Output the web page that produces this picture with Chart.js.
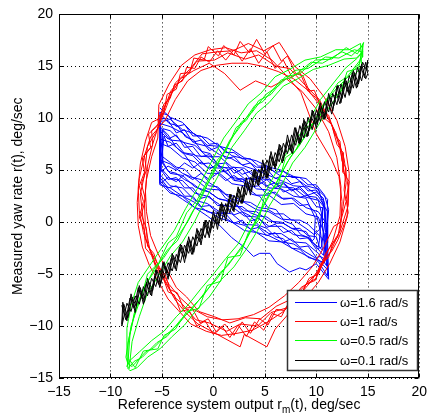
<!DOCTYPE html>
<html>
<head>
<meta charset="utf-8">
<script src="https://cdn.jsdelivr.net/npm/chart.js@4"></script>
<style>
html,body{margin:0;padding:0;background:#fff}
#wrap{position:relative;width:433px;height:418px}
</style>
</head>
<body>
<div id="wrap"><canvas id="c"></canvas></div>
<script>
const FONT = '"Liberation Sans", Arial, Helvetica, sans-serif';

// axis ticks
const xTicks = [-15, -10, -5, 0, 5, 10, 15, 20];
const yTicks = [-15, -10, -5, 0, 5, 10, 15, 20];

// legend labels, in legend order
const labels = ['\u03c9=1.6 rad/s', '\u03c9=1 rad/s', '\u03c9=0.5 rad/s', '\u03c9=0.1 rad/s'];
const colors = ['#0000ff', '#ff0000', '#00ff00', '#000000'];

// omega = 1.6 rad/s  [r_m, r]
const w16 = [
  [-5.2,11.0],[-4.2,10.1],[-3.0,9.6],[-1.8,8.4],[-0.6,8.1],[0.6,7.3],[1.8,7.0],[3.0,6.2],[4.2,5.9],[5.4,5.3],[6.6,5.0],[7.8,4.4],[9.0,4.2],[10.2,3.1],[11.1,2.2],[11.0,-1.0],[11.1,-4.6],
  [10.2,-3.6],[9.0,-2.9],[7.8,-2.1],[6.6,-1.9],[5.4,-1.3],[4.2,-1.0],[3.0,-0.3],[1.8,0.0],[0.6,0.8],[-0.6,1.0],[-1.8,1.9],[-3.0,2.5],[-4.2,3.3],[-5.2,3.6],[-5.2,5.5],
  [-4.9,9.0],[-4.2,8.8],[-3.0,7.7],[-1.8,7.4],[-0.6,6.3],[0.6,6.3],[1.8,5.3],[3.0,5.2],[4.2,4.2],[5.4,4.1],[6.6,3.4],[7.8,3.3],[9.0,2.4],[10.2,2.1],[10.5,0.9],[10.3,-1.8],
  [10.2,-2.4],[9.0,-1.4],[7.8,-1.2],[6.6,-0.4],[5.4,-0.4],[4.2,0.5],[3.0,0.6],[1.8,1.5],[0.6,1.7],[-0.6,2.5],[-1.8,2.8],[-3.0,4.0],[-4.2,4.2],[-5.1,5.2],
  [-5.2,9.7],[-4.4,9.8],[-3.6,8.6],[-2.8,8.9],[-2.0,7.7],[-1.2,7.9],[-0.4,6.9],[0.4,7.2],[1.2,6.1],[2.0,6.3],[2.8,5.5],[3.6,5.7],[4.4,4.8],[5.2,5.1],[6.0,4.2],[6.8,4.5],[7.6,3.7],[8.4,3.9],[9.2,3.0],[10.0,3.1],[10.8,1.9],[10.9,0.4],[10.5,-2.4],
  [10.0,-2.6],[9.2,-1.5],[8.4,-1.6],[7.6,-0.8],[6.8,-1.0],[6.0,-0.2],[5.2,-0.5],[4.4,0.4],[3.6,0.1],[2.8,1.0],[2.0,0.7],[1.2,1.6],[0.4,1.6],[-0.4,2.5],[-1.2,2.3],[-2.0,3.3],[-2.8,3.3],[-3.6,4.3],[-4.4,4.1],[-5.2,5.2],
  [-5.1,10.4],[-4.3,9.5],[-3.5,9.3],[-2.7,8.2],[-1.9,7.9],[-1.1,6.8],[-0.3,6.6],[0.5,5.4],[1.3,5.2],[2.1,4.0],[2.9,3.9],[3.7,2.7],[4.5,2.5],[5.3,1.4],[6.1,1.2],[6.9,0.1],[7.7,-0.2],[8.5,-1.2],[9.3,-1.5],[10.1,-2.5],[10.7,-3.2],[10.9,-1.0],[10.7,2.3],
  [10.0,2.9],[9.2,2.6],[8.4,3.4],[7.6,3.0],[6.8,3.7],[6.0,3.3],[5.2,4.1],[4.4,3.6],[3.6,4.3],[2.8,3.9],[2.0,4.5],[1.2,4.0],[0.4,4.7],[-0.4,4.1],[-1.2,4.7],[-2.0,4.1],[-2.8,4.6],[-3.6,3.9],[-4.4,4.3],[-5.2,3.7],
  [-5.2,8.0],[-4.2,7.7],[-3.0,6.7],[-1.8,6.5],[-0.6,5.3],[0.6,5.2],[1.8,4.3],[3.0,4.1],[4.2,3.2],[5.4,3.1],[6.6,2.3],[7.8,2.3],[9.0,1.4],[10.2,1.0],[11.1,-0.3],[11.0,-3.0],[11.1,-5.2],
  [10.2,-3.8],[9.0,-3.2],[7.8,-2.6],[6.6,-1.9],[5.4,-1.8],[4.2,-1.0],[3.0,-0.8],[1.8,0.0],[0.6,0.4],[-0.6,1.1],[-1.8,1.4],[-3.0,2.5],[-4.2,2.8],[-5.2,3.8],
  [-5.1,8.7],[-4.4,8.0],[-3.6,8.4],[-2.8,7.2],[-2.0,7.3],[-1.2,6.3],[-0.4,6.5],[0.4,5.6],[1.2,5.7],[2.0,4.7],[2.8,5.1],[3.6,4.1],[4.4,4.4],[5.2,3.5],[6.0,3.8],[6.8,2.9],[7.6,3.2],[8.4,2.4],[9.2,2.6],[10.0,1.5],[10.6,1.4],[10.6,-0.3],[10.9,-3.6],
  [10.4,-3.3],[10.0,-3.4],[9.2,-2.3],[8.4,-2.4],[7.6,-1.6],[6.8,-1.9],[6.0,-1.0],[5.2,-1.3],[4.4,-0.5],[3.6,-0.7],[2.8,0.2],[2.0,-0.1],[1.2,0.8],[0.4,0.9],[-0.4,1.6],[-1.2,1.5],[-2.0,2.5],[-2.8,2.5],[-3.6,3.5],[-4.4,3.3],[-5.2,4.3],
  [-5.2,10.0],[-4.2,9.9],[-3.0,8.9],[-1.8,8.5],[-0.6,7.4],[0.6,7.3],[1.8,6.4],[3.0,6.1],[4.2,5.3],[5.4,5.2],[6.6,4.4],[7.8,4.4],[9.0,3.5],[10.2,3.2],[10.7,1.6],[10.3,-0.7],
  [9.8,-1.2],[9.0,-0.6],[7.8,0.2],[6.6,0.3],[5.4,1.0],[4.2,1.2],[3.0,1.9],[1.8,2.2],[0.6,3.1],[-0.6,3.2],[-1.8,4.2],[-3.0,4.7],[-4.2,5.6],[-5.2,6.0],
  [-5.2,4.8],[-4.4,5.4],[-3.6,5.0],[-2.8,5.7],[-2.0,5.2],[-1.2,5.8],[-0.4,5.1],[0.4,5.6],[1.2,4.9],[2.0,5.3],[2.8,4.6],[3.6,4.9],[4.4,4.2],[5.2,4.4],[6.0,3.7],[6.8,3.8],[7.6,3.1],[8.4,3.2],[9.2,2.5],[10.0,2.4],[10.8,1.4],[11.0,-0.9],[10.8,-3.9],
  [10.0,-3.6],[9.2,-3.4],[8.4,-2.6],[7.6,-2.5],[6.8,-1.6],[6.0,-1.4],[5.2,-0.6],[4.4,-0.3],[3.6,0.6],[2.8,1.0],[2.0,1.9],[1.2,2.3],[0.4,3.3],[-0.4,3.8],[-1.2,4.8],[-2.0,5.4],[-2.8,6.5],[-3.6,7.2],[-4.4,8.4],[-5.2,9.2],[-5.2,10.6],
  [-5.0,10.5],[-4.4,10.3],[-3.6,9.2],[-2.8,9.4],[-2.0,8.3],[-1.2,8.3],[-0.4,7.5],[0.4,7.6],[1.2,6.7],[2.0,6.7],[2.8,6.1],[3.6,6.1],[4.4,5.4],[5.2,5.4],[6.0,4.8],[6.8,4.9],[7.6,4.3],[8.4,4.3],[9.2,3.6],[10.0,3.6],[10.8,2.6],[11.2,1.2],[10.9,-1.9],
  [10.5,-1.5],[10.0,-1.0],[9.2,-0.2],[8.4,0.2],[7.6,0.2],[6.8,0.8],[6.0,0.8],[5.2,1.3],[4.4,1.4],[3.6,1.9],[2.8,2.0],[2.0,2.5],[1.2,2.7],[0.4,3.4],[-0.4,3.5],[-1.2,4.1],[-2.0,4.3],[-2.8,5.1],[-3.6,5.3],[-4.4,5.9],[-5.2,6.5],
  [-5.2,9.5],[-4.2,9.2],[-3.0,8.6],[-1.8,7.6],[-0.6,7.3],[0.6,6.5],[1.8,6.1],[3.0,5.4],[4.2,5.0],[5.4,4.5],[6.6,4.0],[7.8,3.5],[9.0,3.4],[10.2,2.5],[11.1,1.0],[11.1,-2.0],[11.2,-5.5],
  [10.0,-4.0],[9.0,-4.6],[8.4,-4.4],[7.4,-4.8],[6.2,-4.0],[5.5,-3.0],[4.5,-3.0],[3.9,-3.3],[3.0,-2.4],[1.8,-1.5],[0.6,-0.3],[-0.6,0.6],[-1.8,1.4],[-3.0,2.2],[-4.2,3.0],[-5.2,4.0],
  [-4.8,8.3],[-4.4,7.3],[-3.6,7.6],[-2.8,6.6],[-2.0,6.4],[-1.2,5.6],[-0.4,5.7],[0.4,4.8],[1.2,4.9],[2.0,4.0],[2.8,4.2],[3.6,3.4],[4.4,3.5],[5.2,2.7],[6.0,2.9],[6.8,2.2],[7.6,2.3],[8.4,1.6],[9.2,1.7],[10.0,0.8],[10.4,-0.9],[10.6,-2.7],
  [10.3,-2.4],[10.0,-1.4],[9.2,-1.3],[8.4,-0.6],[7.6,-0.6],[6.8,-0.1],[6.0,-0.1],[5.2,0.5],[4.4,0.6],[3.6,0.9],[2.8,1.5],[2.0,1.5],[1.2,2.1],[0.4,2.3],[-0.4,2.9],[-1.2,3.1],[-2.0,3.7],[-2.8,4.1],[-3.6,4.7],[-4.4,4.9],[-4.9,5.8],
  [-5.0,8.9],[-4.2,7.9],[-3.0,7.8],[-1.8,6.4],[-0.6,6.3],[0.6,5.3],[1.8,5.2],[3.0,4.2],[4.2,4.1],[5.4,3.3],[6.6,3.2],[7.8,2.5],[9.0,2.3],[9.9,0.4],[9.8,-1.6],
  [9.6,-1.8],[9.0,-0.9],[7.8,-0.7],[6.6,0.0],[5.4,0.1],[4.2,1.0],[3.0,1.1],[1.8,2.0],[0.6,2.2],[-0.6,3.0],[-1.8,3.4],[-3.0,4.5],[-4.2,4.7],[-4.9,5.6],
  [-5.2,7.6],[-4.2,7.2],[-3.0,6.2],[-1.8,5.8],[-0.6,4.7],[0.6,4.7],[1.8,3.7],[3.0,3.5],[4.2,2.6],[5.4,2.6],[6.6,1.7],[7.8,1.8],[9.0,0.8],[10.2,0.5],[10.8,-1.2],[11.0,-4.2],
  [10.2,-3.0],[9.0,-2.0],[7.8,-1.9],[6.6,-1.1],[5.4,-1.1],[4.2,-0.3],[3.0,-0.2],[1.8,0.8],[0.6,1.0],[-0.6,1.8],[-1.8,2.1],[-3.0,3.3],[-4.2,3.5],[-5.2,4.6],[-5.2,7.0]
];

// omega = 1 rad/s
const w10 = [
  [-5.0,10.3],[-4.1,12.7],[-2.7,14.0],[-1.6,15.5],[0.1,15.6],[1.4,16.3],[3.1,15.7],[4.4,16.1],[6.1,15.0],[7.4,14.8],[9.1,13.0],[10.3,11.8],[11.7,9.0],[12.3,7.1],[12.9,3.8],[12.6,1.5],[12.1,-1.4],[10.9,-3.0],[10.0,-5.4],[8.5,-6.3],[7.3,-8.2],[5.6,-8.7],[4.3,-10.0],[2.6,-9.8],[1.3,-10.5],[-0.4,-9.7],[-1.7,-9.4],[-3.1,-7.8],[-3.9,-7.1],[-5.0,-5.0],[-5.7,-3.9],[-6.6,-1.6],[-6.8,0.0],[-7.1,2.7],[-6.7,4.5],[-6.4,7.3],[-5.6,8.6],
  [-4.6,11.0],[-3.7,13.4],[-2.3,14.7],[-1.1,16.2],[0.4,16.4],[1.9,16.5],[3.4,17.2],[4.9,16.5],[6.4,17.3],[7.9,15.0],[9.4,13.8],[10.8,12.0],[12.0,9.8],[12.8,7.3],[13.2,4.7],[13.1,1.6],[12.4,-0.6],[11.4,-2.8],[10.3,-4.6],[9.0,-6.0],[7.6,-7.4],[6.1,-8.1],[4.6,-9.3],[3.1,-9.2],[1.6,-9.7],[0.1,-9.1],[-1.4,-8.6],[-2.6,-7.2],[-3.6,-6.3],[-4.5,-4.6],[-5.4,-3.0],[-6.1,-1.3],[-6.5,1.0],[-6.6,3.0],[-6.4,5.4],[-5.9,7.5],[-5.3,9.4],
  [-5.4,9.9],[-4.4,11.8],[-3.2,13.8],[-1.9,14.6],[-0.4,15.3],[1.1,14.3],[2.6,12.7],[4.1,13.6],[5.6,13.0],[7.1,13.8],[8.6,12.6],[10.0,10.9],[11.2,8.7],[12.0,6.2],[12.4,3.4],[12.3,0.6],[11.6,-1.8],[10.6,-3.9],[9.5,-5.7],[8.2,-7.2],[6.8,-8.6],[5.3,-9.6],[3.8,-10.4],[2.3,-10.7],[0.8,-10.9],[-0.7,-10.5],[-2.2,-9.8],[-3.4,-8.5],[-4.4,-7.4],[-5.3,-5.8],[-6.2,-4.2],[-6.9,-2.4],[-7.3,-0.3],[-7.4,1.9],[-7.2,4.2],[-6.7,6.4],[-6.1,8.2],
  [-4.7,9.8],[-3.7,11.8],[-2.5,13.6],[-1.2,14.6],[0.3,15.1],[1.8,15.3],[3.3,15.3],[4.8,15.0],[6.3,14.5],[7.8,13.8],[9.3,12.6],[10.7,10.8],[11.9,8.6],[12.7,6.1],[13.1,3.3],[13.0,0.5],[12.3,-1.9],[11.3,-4.0],[10.2,-5.8],[8.9,-7.3],[7.5,-8.6],[6.0,-10.3],[5.2,-12.0],[3.0,-10.8],[2.6,-12.0],[0.0,-10.6],[-1.5,-9.8],[-2.7,-8.7],[-3.7,-7.5],[-4.6,-5.9],[-5.5,-4.3],[-6.2,-2.5],[-6.6,-0.4],[-6.7,1.8],[-6.5,4.1],[-6.0,6.3],[-5.4,8.1],
  [-5.3,11.3],[-4.3,13.3],[-3.1,15.1],[-1.8,16.1],[-0.3,16.6],[1.2,16.8],[2.7,16.3],[4.2,16.5],[5.7,15.6],[7.0,14.2],[8.5,12.5],[10.0,8.5],[11.5,6.0],[12.2,4.4],[12.5,2.0],[12.4,0.0],[11.7,-0.4],[10.7,-2.5],[9.6,-4.3],[8.3,-5.8],[6.9,-7.1],[5.4,-8.2],[3.9,-8.9],[2.4,-9.3],[0.9,-9.4],[-0.6,-9.1],[-2.1,-8.3],[-3.3,-7.2],[-4.3,-6.0],[-5.2,-4.4],[-6.1,-2.8],[-6.8,-1.0],[-7.2,1.1],[-7.3,3.3],[-7.1,5.6],[-6.6,7.8],[-6.0,9.6],
  [-5.2,10.0],[-4.8,11.4],[-4.2,11.9],[-3.8,13.2],[-3.0,13.6],[-2.6,14.9],[-1.8,14.8],[-1.2,15.9],[-0.4,15.4],[0.4,16.5],[1.2,15.6],[2.0,16.6],[2.8,15.5],[3.6,16.7],[4.4,15.3],[5.2,16.4],[6.0,14.8],[6.8,15.6],[7.6,14.0],[8.4,14.4],[9.2,12.6],[9.8,12.7],[10.6,10.8],[11.2,10.3],[11.8,8.4],[12.3,7.8],[12.5,5.9],[12.9,5.2],[12.7,3.1],[12.9,2.0],[12.4,0.2],[12.3,-0.9],[11.6,-2.0],[11.2,-3.4],[10.4,-4.0],[9.9,-5.6],[9.0,-6.0],[8.3,-7.4],[7.4,-7.6],[6.6,-9.1],[5.7,-8.8],[4.9,-10.4],[4.0,-9.6],[3.2,-11.0],[2.4,-9.9],[1.6,-11.1],[0.8,-10.0],[0.0,-10.8],[-0.8,-9.5],[-1.6,-10.0],[-2.4,-8.4],[-3.2,-8.6],[-3.8,-7.0],[-4.4,-6.7],[-4.9,-5.3],[-5.5,-4.6],[-6.0,-3.2],[-6.6,-2.5],[-6.7,-0.8],[-7.2,0.5],[-6.8,2.0],[-7.2,3.5],[-6.7,4.8],[-6.9,6.2],[-6.1,7.2],[-6.3,8.5],[-5.5,9.2],
  [-4.8,10.6],[-4.5,12.3],[-3.6,12.8],[-3.2,14.3],[-2.3,14.4],[-1.9,15.8],[-0.9,15.6],[-0.5,16.9],[0.5,16.0],[1.0,17.0],[2.0,16.1],[2.6,17.4],[3.5,16.3],[4.2,17.6],[5.0,16.2],[5.8,17.0],[6.6,15.5],[7.2,16.0],[8.0,14.3],[8.7,14.1],[9.4,12.4],[10.1,11.9],[10.8,10.0],[11.5,9.4],[12.0,7.5],[12.6,6.7],[12.6,4.8],[13.2,3.9],[12.9,2.2],[13.1,0.9],[12.6,-0.5],[12.1,-1.7],[11.5,-2.8],[10.8,-3.6],[10.2,-5.0],[9.3,-5.4],[8.6,-6.8],[7.8,-7.1],[6.9,-8.5],[6.1,-8.4],[5.3,-9.9],[4.5,-9.3],[3.6,-10.7],[2.8,-9.6],[2.0,-10.9],[1.1,-9.8],[0.3,-10.6],[-0.5,-9.3],[-1.3,-9.7],[-2.1,-8.2],[-2.9,-8.3],[-3.5,-6.8],[-4.2,-6.5],[-4.7,-5.0],[-5.3,-4.4],[-5.8,-3.0],[-6.4,-2.3],[-6.5,-0.6],[-7.0,0.7],[-6.6,2.2],[-7.0,3.7],[-6.5,5.0],[-6.7,6.4],[-5.9,7.4],[-6.0,8.8],[-5.2,9.6],[-5.0,10.5]
];

// omega = 0.5 rad/s
const w05 = [
  [-8.3,-13.6],[-8.1,-10.8],[-7.7,-8.8],[-6.7,-6.2],[-5.9,-5.0],[-4.5,-2.7],[-3.5,-1.8],[-2.1,0.9],[-1.1,2.5],[0.3,5.5],[1.3,7.2],[2.7,9.6],[3.7,10.5],[5.1,12.3],[6.3,13.1],[7.9,14.6],[9.2,14.8],[10.9,15.9],[12.2,15.8],[13.7,16.6],[14.4,16.4],
  [14.2,15.3],[13.3,14.2],[11.9,12.8],[10.9,11.6],[9.5,9.1],[8.6,7.8],[7.2,5.8],[6.2,3.9],[4.9,1.6],[4.0,-0.2],[2.7,-2.6],[1.7,-3.7],[0.3,-5.5],[-0.7,-6.6],[-2.1,-8.4],[-3.1,-9.3],[-4.5,-11.0],[-5.5,-11.6],[-6.9,-13.0],[-7.7,-13.4],[-8.3,-14.1],
  [-8.4,-12.9],[-8.4,-10.2],[-8.0,-8.0],[-7.3,-5.8],[-6.2,-4.2],[-5.1,-2.6],[-3.8,-0.8],[-2.7,1.3],[-1.4,3.5],[-0.3,5.6],[1.0,8.1],[2.2,9.7],[3.4,11.4],[4.6,12.4],[6.0,14.0],[7.4,14.7],[8.9,15.6],[10.4,15.9],[11.9,16.6],[13.2,16.6],[14.3,17.2],
  [14.4,15.0],[13.5,13.9],[12.4,12.6],[11.2,11.0],[10.0,9.0],[8.9,7.2],[7.7,5.7],[6.5,3.3],[5.4,1.5],[4.3,-0.8],[3.2,-2.6],[2.0,-4.3],[0.8,-5.5],[-0.4,-7.2],[-1.6,-8.4],[-2.8,-9.9],[-4.0,-11.0],[-5.2,-12.2],[-6.4,-13.0],[-7.4,-14.0],[-8.1,-14.3],
  [-8.2,-14.2],[-7.9,-11.5],[-7.2,-9.1],[-6.4,-6.8],[-5.4,-5.3],[-4.2,-3.3],[-3.0,-1.9],[-1.8,0.1],[-0.6,2.5],[0.6,4.7],[1.8,7.2],[3.0,8.8],[4.2,10.5],[5.4,11.5],[6.8,13.1],[8.2,13.8],[9.7,14.7],[11.2,15.1],[12.7,15.7],[13.9,15.8],[14.5,16.4],
  [14.0,15.8],[12.8,14.8],[11.6,13.3],[10.4,11.8],[9.2,9.6],[8.1,8.0],[6.9,6.3],[5.7,4.1],[4.6,2.1],[3.5,0.0],[2.4,-2.1],[1.2,-3.5],[0.0,-5.0],[-1.2,-6.4],[-2.4,-7.9],[-3.6,-9.1],[-4.8,-10.5],[-6.0,-11.4],[-7.2,-12.5],[-8.1,-13.3],[-8.4,-13.9],
  [-8.3,-13.5],[-8.3,-11.6],[-7.5,-8.2],[-7.0,-6.9],[-5.7,-4.4],[-4.8,-3.4],[-3.2,-1.0],[-2.4,0.2],[-0.8,3.3],[0.0,4.7],[1.6,7.9],[2.4,8.9],[4.0,11.2],[4.8,11.6],[6.6,13.7],[7.6,13.9],[9.5,15.4],[10.6,15.3],[12.5,16.4],[13.4,16.0],[14.5,17.0],
  [14.5,15.9],[13.0,14.0],[12.1,13.4],[10.6,11.2],[9.8,9.7],[8.3,7.3],[7.5,6.3],[5.9,3.4],[5.2,2.3],[3.7,-0.6],[3.0,-2.0],[1.4,-4.2],[0.6,-4.9],[-1.0,-7.1],[-1.8,-7.9],[-3.4,-9.8],[-4.2,-10.5],[-5.8,-12.1],[-6.6,-12.5],[-7.9,-13.9],[-8.3,-13.6],
  [-8.5,-13.0],[-8.0,-10.0],[-7.8,-9.4],[-6.9,-6.9],[-6.4,-5.0],[-5.3,-3.9],[-4.4,-2.0],[-3.6,-1.4],[-2.6,0.9],[-1.6,2.1],[-0.6,3.9],[0.4,6.0],[1.2,6.8],[2.2,9.1],[3.2,9.8],[4.4,11.7],[5.6,12.3],[7.0,14.0],[8.4,14.3],[9.9,15.6],[11.5,15.7],[12.9,16.8],[14.0,16.2],[14.6,17.3],
  [14.1,14.8],[13.0,14.5],[12.3,12.4],[11.0,11.9],[10.2,9.8],[9.0,9.1],[8.0,6.9],[7.0,6.2],[6.3,3.6],[5.0,2.6],[4.4,0.2],[3.4,-1.0],[2.6,-3.2],[1.4,-3.4],[0.7,-5.7],[-0.6,-6.1],[-1.4,-8.3],[-2.6,-8.6],[-3.7,-10.3],[-4.8,-10.9],[-5.4,-12.2],[-6.8,-12.4],[-7.6,-14.0],[-8.2,-13.2]
];

// omega = 0.1 rad/s
const w01 = [
  [-8.9,-8.0],[-8.5,-9.4],[-8.1,-7.3],[-7.7,-8.3],[-7.3,-6.3],[-6.9,-7.4],[-6.5,-5.8],[-6.1,-7.0],[-5.7,-5.2],[-5.3,-6.0],[-4.9,-3.9],[-4.5,-4.9],[-4.1,-3.5],[-3.7,-4.5],[-3.3,-2.4],[-2.9,-3.4],[-2.5,-1.8],[-2.1,-3.1],[-1.7,-1.2],[-1.3,-1.9],
  [-0.9,0.0],[-0.5,-1.2],[-0.1,0.5],[0.3,-0.2],[0.7,1.7],[1.1,0.5],[1.5,2.2],[1.9,1.1],[2.3,2.8],[2.7,1.8],[3.1,3.9],[3.5,3.1],[3.9,5.0],[4.3,3.6],[4.7,5.3],[5.1,4.3],[5.5,6.4],[5.9,5.4],[6.3,7.0],[6.7,5.7],
  [7.1,7.7],[7.5,6.9],[7.9,9.1],[8.3,7.6],[8.7,9.5],[9.1,8.2],[9.5,10.1],[9.9,9.4],[10.3,11.2],[10.7,9.9],[11.1,11.8],[11.5,10.4],[11.9,12.5],[12.3,11.4],[12.7,13.5],[13.1,12.5],[13.5,14.4],[13.9,12.9],[14.3,15.0],[14.7,13.9],[15.0,15.6],
  [14.9,14.6],[14.5,15.4],[14.1,13.3],[13.7,14.4],[13.3,12.4],[12.9,13.6],[12.5,11.9],[12.1,13.2],[11.7,11.2],[11.3,12.1],[10.9,10.0],[10.5,11.1],[10.1,9.4],[9.7,10.7],[9.3,8.8],[8.9,9.7],[8.5,7.7],[8.1,8.7],[7.7,6.6],[7.3,8.0],
  [6.9,6.4],[6.5,7.4],[6.1,5.4],[5.7,6.3],[5.3,4.3],[4.9,5.7],[4.5,3.9],[4.1,5.0],[3.7,2.9],[3.3,3.8],[2.9,2.0],[2.5,3.2],[2.1,1.5],[1.7,2.7],[1.3,0.8],[0.9,1.7],[0.5,-0.3],[0.1,0.7],[-0.3,-1.0],[-0.7,0.2],
  [-1.1,-1.6],[-1.5,-0.8],[-1.9,-2.9],[-2.3,-1.7],[-2.7,-3.5],[-3.1,-2.2],[-3.5,-4.1],[-3.9,-3.2],[-4.3,-5.2],[-4.7,-4.2],[-5.1,-5.9],[-5.5,-4.6],[-5.9,-6.6],[-6.3,-5.7],[-6.7,-7.7],[-7.1,-6.3],[-7.5,-8.1],[-7.9,-7.2],[-8.3,-9.2],[-8.7,-7.9],[-8.9,-10.0],
  [-8.8,-9.6],[-8.4,-7.8],[-8.0,-8.6],[-7.6,-7.1],[-7.2,-7.9],[-6.8,-6.2],[-6.4,-7.1],[-6.0,-5.4],[-5.6,-6.2],[-5.2,-4.6],[-4.8,-5.4],[-4.4,-3.9],[-4.0,-4.7],[-3.6,-3.1],[-3.2,-3.9],[-2.8,-2.2],[-2.4,-3.0],[-2.0,-1.4],[-1.6,-2.3],[-1.2,-0.6],
  [-0.8,-1.5],[-0.4,0.2],[0.0,-0.6],[0.4,1.0],[0.8,0.1],[1.2,1.8],[1.6,0.9],[2.0,2.6],[2.4,1.7],[2.8,3.5],[3.2,2.6],[3.6,4.3],[4.0,3.4],[4.4,5.1],[4.8,4.2],[5.2,6.0],[5.6,5.0],[6.0,6.7],[6.4,5.8],[6.8,7.6],
  [7.2,6.6],[7.6,8.4],[8.0,7.4],[8.4,9.3],[8.8,8.1],[9.2,10.1],[9.6,8.9],[10.0,10.8],[10.4,9.7],[10.8,11.6],[11.2,10.6],[11.6,12.4],[12.0,11.3],[12.4,13.3],[12.8,12.0],[13.2,14.1],[13.6,12.9],[14.0,14.9],[14.4,13.6],[14.8,15.4],[15.0,14.3],
  [14.8,13.8],[14.4,15.2],[14.0,13.0],[13.6,14.6],[13.2,12.2],[12.8,13.9],[12.4,11.5],[12.0,13.1],[11.6,10.7],[11.2,12.4],[10.8,9.9],[10.4,11.5],[10.0,9.0],[9.6,10.8],[9.2,8.3],[8.8,9.9],[8.4,7.5],[8.0,9.1],[7.6,6.7],[7.2,8.4],
  [6.8,5.9],[6.4,7.5],[6.0,5.1],[5.6,6.8],[5.2,4.2],[4.8,6.0],[4.4,3.5],[4.0,5.1],[3.6,2.6],[3.2,4.3],[2.8,1.8],[2.4,3.4],[2.0,1.0],[1.6,2.7],[1.2,0.1],[0.8,1.9],[0.4,-0.7],[0.0,1.1],[-0.4,-1.5],[-0.8,0.2],
  [-1.2,-2.2],[-1.6,-0.6],[-2.0,-3.1],[-2.4,-1.4],[-2.8,-3.9],[-3.2,-2.1],[-3.6,-4.7],[-4.0,-3.0],[-4.4,-5.5],[-4.8,-3.8],[-5.2,-6.3],[-5.6,-4.6],[-6.0,-7.1],[-6.4,-5.4],[-6.8,-7.9],[-7.2,-6.1],[-7.6,-8.7],[-8.0,-6.9],[-8.4,-9.5],[-8.8,-7.7],[-8.9,-9.8]
];

const series = [w16, w10, w05, w01];

const minus = v => String(v).replace('-', '\u2212');

// dotted MATLAB-style grid, drawn under the data
const dots = {
  id: 'dots',
  beforeDatasetsDraw(chart) {
    const ctx = chart.ctx, a = chart.chartArea, sx = chart.scales.x, sy = chart.scales.y;
    ctx.save();
    ctx.strokeStyle = '#000'; ctx.lineWidth = 1; ctx.setLineDash([1, 3]);
    xTicks.forEach(v => {
      const px = Math.round(sx.getPixelForValue(v)) + 0.5;
      ctx.beginPath(); ctx.moveTo(px, a.top); ctx.lineTo(px, a.bottom); ctx.stroke();
    });
    yTicks.forEach(v => {
      const py = Math.round(sy.getPixelForValue(v)) + 0.5;
      ctx.beginPath(); ctx.moveTo(a.left, py); ctx.lineTo(a.right, py); ctx.stroke();
    });
    ctx.restore();
  }
};

// box, inner tick marks, legend and axis titles
const frame = {
  id: 'frame',
  afterDraw(chart) {
    const ctx = chart.ctx, a = chart.chartArea, sx = chart.scales.x, sy = chart.scales.y;
    const L = Math.round(a.left) + 0.5, T = Math.round(a.top) + 0.5, R = Math.round(a.right) - 0.5, B = Math.round(a.bottom) - 0.5;
    ctx.save();
    ctx.setLineDash([]);
    ctx.strokeStyle = '#000'; ctx.lineWidth = 1;
    ctx.strokeRect(L, T, R - L, B - T);
    ctx.beginPath();
    xTicks.forEach(v => {
      const px = Math.round(sx.getPixelForValue(v)) + 0.5;
      ctx.moveTo(px, B); ctx.lineTo(px, B - 4); ctx.moveTo(px, T); ctx.lineTo(px, T + 4);
    });
    yTicks.forEach(v => {
      const py = Math.round(sy.getPixelForValue(v)) + 0.5;
      ctx.moveTo(L, py); ctx.lineTo(L + 4, py); ctx.moveTo(R, py); ctx.lineTo(R - 4, py);
    });
    ctx.stroke();

    // legend
    const lx = 287.5, ly = 290.5, lw = 130, lh = 80;
    ctx.fillStyle = '#fff'; ctx.fillRect(lx, ly, lw, lh);
    ctx.strokeStyle = '#333'; ctx.lineWidth = 1.5; ctx.strokeRect(lx, ly, lw, lh);
    ctx.font = '13px ' + FONT; ctx.textBaseline = 'middle'; ctx.textAlign = 'left';
    labels.forEach((t, i) => {
      const row = Math.floor(302 + i * 19.4);
      ctx.fillStyle = colors[i];
      ctx.fillRect(295, row, 42, 1);
      ctx.fillStyle = '#000';
      ctx.fillText(t, 340, row + 1);
    });

    // x title with subscript
    const p1 = 'Reference system output r', p2 = 'm', p3 = '(t), deg/sec';
    ctx.font = '14px ' + FONT; const w1 = ctx.measureText(p1).width, w3 = ctx.measureText(p3).width;
    ctx.font = '10px ' + FONT; const w2 = ctx.measureText(p2).width;
    const x0 = (a.left + a.right) / 2 - (w1 + w2 + w3) / 2;
    ctx.textBaseline = 'alphabetic'; ctx.fillStyle = '#000';
    ctx.font = '14px ' + FONT; ctx.fillText(p1, x0, 409);
    ctx.font = '10px ' + FONT; ctx.fillText(p2, x0 + w1, 413);
    ctx.font = '14px ' + FONT; ctx.fillText(p3, x0 + w1 + w2, 409);

    // y title
    ctx.translate(18, (a.top + a.bottom) / 2); ctx.rotate(-Math.PI / 2);
    ctx.textAlign = 'center'; ctx.textBaseline = 'middle';
    ctx.fillText('Measured yaw rate r(t), deg/sec', 0, 0);
    ctx.restore();
  }
};

// datasets are drawn in reverse, so black ends up on top
const order = [3, 2, 1, 0];
new Chart(document.getElementById('c'), {
  type: 'scatter',
  data: {
    datasets: order.map(i => ({
      label: labels[i],
      data: series[i].map(p => ({ x: p[0], y: p[1] })),
      showLine: true,
      borderColor: colors[i],
      borderWidth: 1,
      pointRadius: 0,
      tension: 0
    }))
  },
  options: {
    responsive: true,
    maintainAspectRatio: false,
    animation: false,
    events: [],
    layout: { padding: { top: 13, right: 9, left: 0, bottom: 0 } },
    plugins: { legend: { display: false }, tooltip: { enabled: false } },
    scales: {
      x: {
        type: 'linear', min: xTicks[0], max: xTicks[xTicks.length - 1],
        afterBuildTicks: s => { s.ticks = xTicks.map(v => ({ value: v })); },
        afterFit: s => { s.height = 40; },
        grid: { display: false, drawTicks: false },
        border: { display: false },
        ticks: { padding: 6, color: '#000', font: { family: FONT, size: 14 }, maxRotation: 0, callback: minus }
      },
      y: {
        type: 'linear', min: yTicks[0], max: yTicks[yTicks.length - 1],
        afterBuildTicks: s => { s.ticks = yTicks.map(v => ({ value: v })); },
        afterFit: s => { s.width = 59; },
        grid: { display: false, drawTicks: false },
        border: { display: false },
        ticks: { padding: 6, color: '#000', font: { family: FONT, size: 14 }, callback: minus }
      }
    }
  },
  plugins: [dots, frame]
});
</script>
</body>
</html>
